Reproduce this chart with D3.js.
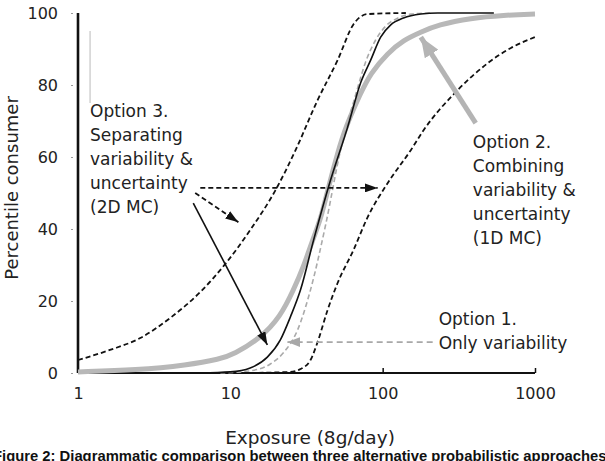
<!DOCTYPE html>
<html>
<head>
<meta charset="utf-8">
<script src="https://cdn.jsdelivr.net/npm/d3@7"></script>
<style>
  body { margin: 0; background: #fff; }
  svg { display: block; }
</style>
</head>
<body>
<svg id="chart" width="605" height="461"></svg>
<script>
// Data: [exposure, percentile]
const option1 = [[8.6, 0], [13.5, 0.6], [18.3, 2.5], [22.3, 5.6], [27.6, 11.9], [33.6, 23.1], [42.2, 41.1],
    [52.9, 61.9], [66.4, 77.2], [77.3, 86.4], [89.9, 92.5], [105, 96.4], [126, 98.6], [153, 99.7], [207, 100]];
const option2 = [[1, 0.3], [2.44, 0.8], [5.21, 2.2], [8.6, 3.9], [10.5, 5.2], [15.7, 9.6], [21.3, 15.6],
    [26, 23.1], [30.2, 29.4], [34.6, 36.9], [39.1, 42.5], [44.1, 51.7], [50.6, 61.1], [57.1, 68.3],
    [71.7, 77.8], [83.4, 83.3], [108, 88.9], [137, 92.5], [178, 94.7], [230, 96.7], [379, 98.6], [625, 99.4], [1000, 99.7]];
const option3Median = [[6.35, 0], [10, 0.3], [13.5, 1.4], [17.5, 4.4], [21.3, 9.2], [24.8, 15.6], [28.9, 23.1],
    [35.2, 36.9], [45.5, 53.6], [58.9, 68.3], [71.7, 80.6], [83.4, 86.9], [97, 93.3], [113, 96.7],
    [137, 98.6], [178, 99.7], [230, 100], [537, 100]];
const option3Upper = [[1, 3.6], [1.62, 6.4], [2.56, 9.7], [4.03, 15.3], [6.35, 22.5], [9.27, 30.3], [13.5, 39.7],
    [19.8, 50.8], [26.8, 61.9], [37.4, 75.8], [50.6, 86.9], [64.4, 96.9], [79.7, 99.7], [142, 100]];
const option3Lower = [[12, 0], [24.8, 0.3], [28.9, 1.1], [33.6, 3.6], [37.4, 8.6], [43.5, 17.5], [50.6, 25],
    [64.4, 34.2], [79.7, 43.3], [108, 52.8], [153, 61.9], [186, 67.5], [311, 78.6], [491, 86.1], [695, 90.3], [1000, 93.3]];

const xTicks = [1, 10, 100, 1000];
const yTicks = [0, 20, 40, 60, 80, 100];

const labelOption1 = ["Option 1.", "Only variability"];
const labelOption2 = ["Option 2.", "Combining", "variability &", "uncertainty", "(1D MC)"];
const labelOption3 = ["Option 3.", "Separating", "variability &", "uncertainty", "(2D MC)"];

const svg = d3.select("#chart");
const x = d3.scaleLog().domain([1, 1000]).range([78, 535]);
const y = d3.scaleLinear().domain([0, 100]).range([373, 13]);

const font = "'DejaVu Sans', Verdana, sans-serif";

// arrow heads
const defs = svg.append("defs");
const marker = (id, color, len, wid) => defs.append("marker")
    .attr("id", id)
    .attr("markerUnits", "userSpaceOnUse")
    .attr("viewBox", `0 0 ${len} ${wid}`)
    .attr("refX", len)
    .attr("refY", wid / 2)
    .attr("markerWidth", len)
    .attr("markerHeight", wid)
    .attr("orient", "auto")
    .append("path")
    .attr("d", `M0,0L${len},${wid / 2}L0,${wid}Z`)
    .attr("fill", color);
marker("headBlack", "#111", 13, 9);
marker("headGrey", "#b4b4b4", 20, 16);
marker("headGreyDash", "#a8a8a8", 13, 10);

// axes
const yAxis = svg.append("g")
    .attr("transform", `translate(${x(1)},0)`)
    .call(d3.axisLeft(y).tickValues(yTicks).tickSize(0).tickPadding(20))
    .call(g => g.select(".domain").attr("stroke", "#111").attr("stroke-width", 2.6).attr("d", `M0,${y(0)}V${y(100)}`));
yAxis.selectAll("text").attr("font-family", font).attr("font-size", 16).attr("fill", "#222");
yAxis.selectAll(".tick").append("line")
    .attr("x1", -7).attr("x2", -5).attr("stroke", "#999").attr("stroke-width", 1);

const xAxis = svg.append("g")
    .attr("transform", `translate(0,${y(0)})`)
    .call(d3.axisBottom(x).tickValues(xTicks).tickFormat(d3.format("d")).tickSize(0).tickPadding(15))
    .call(g => g.select(".domain").attr("stroke", "#111").attr("stroke-width", 2).attr("d", `M${x(1)},0H${x(1000)}`));
xAxis.selectAll("text").attr("font-family", font).attr("font-size", 16).attr("fill", "#222");
xAxis.selectAll(".tick").filter(d => d >= 100).append("line")
    .attr("y1", 0).attr("y2", -5).attr("stroke", "#111").attr("stroke-width", 1.5);

// curves
const line = d3.line()
    .x(d => x(d[0]))
    .y(d => y(d[1]))
    .curve(d3.curveMonotoneX);
const smooth = d3.line()
    .x(d => x(d[0]))
    .y(d => y(d[1]))
    .curve(d3.curveBasis);

svg.append("path").datum(option2)
    .attr("d", smooth).attr("fill", "none")
    .attr("stroke", "#b8b8b8").attr("stroke-width", 5);

svg.append("path").datum(option1)
    .attr("d", line).attr("fill", "none")
    .attr("stroke", "#aaa").attr("stroke-width", 1.6).attr("stroke-dasharray", "5,3");

svg.append("path").datum(option3Median)
    .attr("d", line).attr("fill", "none")
    .attr("stroke", "#111").attr("stroke-width", 1.6);

svg.selectAll(".bound")
    .data([option3Upper, option3Lower])
    .join("path")
    .attr("class", "bound")
    .attr("d", line).attr("fill", "none")
    .attr("stroke", "#111").attr("stroke-width", 1.8).attr("stroke-dasharray", "5,3");

// annotation arrows, [from, to] in data units
const arrows = [
    { from: [6.35, 51.4], to: [92.7, 51.4], stroke: "#111", width: 1.8, dash: "5,3", head: "headBlack" },
    { from: [5.88, 50], to: [11.3, 41.9], stroke: "#111", width: 1.8, dash: "5,3", head: "headBlack" },
    { from: [5.71, 47.2], to: [17.5, 7.8], stroke: "#111", width: 1.6, dash: null, head: "headBlack" },
    { from: [408, 69.4], to: [178, 93.3], stroke: "#b4b4b4", width: 5, dash: null, head: "headGrey" },
    { from: [213, 8.6], to: [23.7, 8.6], stroke: "#a8a8a8", width: 1.8, dash: "6,4", head: "headGreyDash" }
];
svg.selectAll(".arrow")
    .data(arrows)
    .join("line")
    .attr("class", "arrow")
    .attr("x1", d => x(d.from[0])).attr("y1", d => y(d.from[1]))
    .attr("x2", d => x(d.to[0])).attr("y2", d => y(d.to[1]))
    .attr("stroke", d => d.stroke)
    .attr("stroke-width", d => d.width)
    .attr("stroke-dasharray", d => d.dash)
    .attr("marker-end", d => `url(#${d.head})`);

// stray thin rule next to the option 3 label
svg.append("line")
    .attr("x1", x(1.2)).attr("x2", x(1.2))
    .attr("y1", y(95)).attr("y2", y(75))
    .attr("stroke", "#bbb").attr("stroke-width", 1);

// labels
const block = (lines, ex, top) => svg.append("text")
    .attr("font-family", font).attr("font-size", 17).attr("fill", "#222")
    .selectAll("tspan")
    .data(lines)
    .join("tspan")
    .attr("x", x(ex))
    .attr("y", (d, i) => y(top) + i * 24)
    .attr("dy", "0.35em")
    .text(d => d);
block(labelOption3, 1.2, 72.8);
block(labelOption2, 391, 64.2);
block(labelOption1, 233, 15);

svg.append("text")
    .attr("x", 310).attr("y", 444)
    .attr("text-anchor", "middle")
    .attr("font-family", font).attr("font-size", 18.5).attr("fill", "#222")
    .text("Exposure (8g/day)");

svg.append("text")
    .attr("transform", `translate(18,188) rotate(-90)`)
    .attr("text-anchor", "middle")
    .attr("font-family", font).attr("font-size", 18).attr("fill", "#222")
    .text("Percentile consumer");

svg.append("text")
    .attr("x", -7).attr("y", 461)
    .attr("font-family", "'Liberation Sans', Arial, sans-serif").attr("font-weight", "bold")
    .attr("font-size", 14.8).attr("fill", "#111")
    .text("Figure 2: Diagrammatic comparison between three alternative probabilistic approaches");
</script>
</body>
</html>
